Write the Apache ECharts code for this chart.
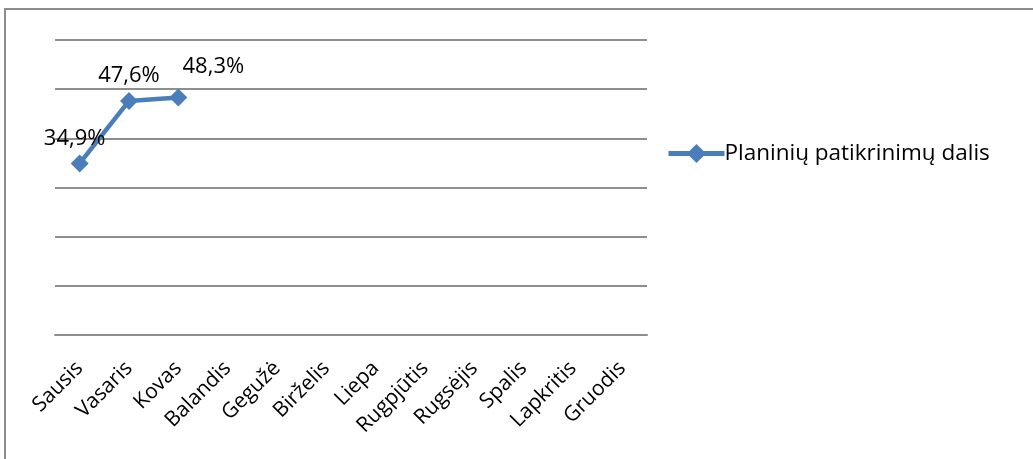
<!DOCTYPE html>
<html>
<head>
<meta charset="utf-8">
<script src="https://cdn.jsdelivr.net/npm/echarts@6/dist/echarts.min.js"></script>
<style>
html,body{margin:0;padding:0;background:#fff;}
#c{width:1033px;height:459px;}
</style>
</head>
<body>
<div id="c"></div>
<script>
const categories = ['Sausis','Vasaris','Kovas','Balandis','Gegužė','Birželis','Liepa','Rugpjūtis','Rugsėjis','Spalis','Lapkritis','Gruodis'];
const seriesName = 'Planinių patikrinimų dalis';
const values = [34.9, 47.6, 48.3];
const labelOffsets = [[-5,-25],[0,-25],[35,-31]];

const FONT = '"Open Sans", sans-serif';
const chart = echarts.init(document.getElementById('c'), null, {renderer:'canvas'});
chart.setOption({
  animation:false,
  backgroundColor:'#fff',
  graphic:[{type:'rect', shape:{x:5,y:9,width:1040,height:470}, style:{fill:'none', stroke:'#8c8c8c', lineWidth:2}, silent:true}],
  grid:{left:55, right:386, top:40, bottom:124, containLabel:false},
  legend:{
    left:661, top:137, orient:'vertical',
    itemWidth:56, itemHeight:24, itemGap:5,
    lineStyle:{width:5},
    textStyle:{fontFamily:FONT, fontSize:22.5, color:'#000', padding:[0,0,0,-5]},
    data:[{name:seriesName}]
  },
  xAxis:{
    type:'category', data:categories, boundaryGap:true,
    axisLine:{show:true, lineStyle:{color:'#8e8e8e', width:2}},
    axisTick:{show:false},
    axisLabel:{rotate:45, interval:0, margin:30, fontFamily:FONT, fontSize:21, color:'#000'}
  },
  yAxis:{
    type:'value', min:0, max:60, interval:10,
    axisLine:{show:false}, axisTick:{show:false}, axisLabel:{show:false},
    splitLine:{lineStyle:{color:'#8e8e8e', width:2}}
  },
  series:[{
    name:seriesName, type:'line',
    data: values.map((v,i)=>({value:v, label:{offset:labelOffsets[i]}})),
    symbol:'diamond', symbolSize:18,
    lineStyle:{color:'#4a7ebb', width:4.5},
    itemStyle:{color:'#4a7ebb'},
    label:{show:true, position:'inside', fontFamily:FONT, fontSize:22, color:'#000',
      formatter:p=>p.value.toFixed(1).replace('.',',')+'%'}
  }]
});
</script>
</body>
</html>
